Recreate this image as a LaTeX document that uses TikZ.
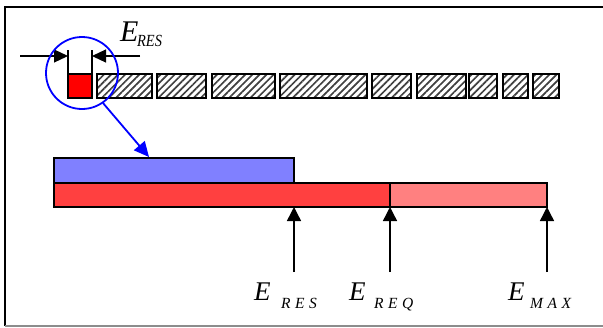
\documentclass[tikz,border=0pt]{standalone}
\usepackage{fontspec}
\setmainfont{Liberation Serif}
\usetikzlibrary{arrows.meta,patterns.meta}

\tikzset{
  frameline/.style={line width=1.6pt, black},
  block/.style={draw=black, line width=1.4pt, pattern={Lines[angle=45,distance=5pt,line width=1.7pt]}, pattern color=black!75},
  resblock/.style={draw=black, line width=1.4pt, fill=red},
  bar/.style={draw=black, line width=1.4pt},
  dimline/.style={line width=1.2pt, black},
  dimarrow/.style={line width=1.2pt, black, -{Triangle[length=14pt,width=13pt]}},
  uparrow/.style={line width=1.4pt, black, -{Triangle[length=14pt,width=14pt]}},
  zoomline/.style={line width=1.8pt, blue},
  bigE/.style={inner sep=0pt, font=\itshape\fontsize{27}{27}\selectfont},
  subE/.style={inner sep=0pt, font=\itshape\fontsize{15.5}{16}\selectfont},
}

\begin{document}
\begin{tikzpicture}[x=1pt,y=-1pt]
  \useasboundingbox (0,0) rectangle (603,327);

  % outer frame (right side runs off the page)
  \draw[frameline] (610,7) -- (5,7) -- (5,326);
  \draw[line width=1.4pt, black!45] (5,326) -- (610,326);

  % reserved slot and the row of occupied blocks
  \path[resblock] (68,74) rectangle (92,98);
  \coordinate (resL) at (68,74);
  \coordinate (resR) at (92,74);
  \foreach \a/\b in {97/152,157/206,212/275,280/367,372/411,417/466,469/497,503/528,533/559}{
    \path[block] (\a,74) rectangle (\b,98);
  }

  % width marks of the reserved slot
  \coordinate (resLtop) at (68,50);
  \coordinate (resRtop) at (92,50);
  \draw[dimline] (resL) -- (resLtop);
  \draw[dimline] (resR) -- (resRtop);
  \coordinate (dimLfrom) at (20,56);
  \coordinate (dimLto) at (68,56);
  \coordinate (dimRfrom) at (140,56);
  \coordinate (dimRto) at (92,56);
  \draw[dimarrow] (dimLfrom) -- (dimLto);
  \draw[dimarrow] (dimRfrom) -- (dimRto);

  \node[bigE, anchor=base west, font=\itshape\fontsize{30}{30}\selectfont] (Etop) at (120,41) {E};
  \node[inner sep=0pt, anchor=base west, xscale=0.85, font=\itshape\fontsize{17}{17}\selectfont] (RESTop) at (137,46) {RES};

  % magnifier circle and pointer
  \node[draw=blue, line width=1.8pt, circle, minimum size=72pt, inner sep=0pt] (lens) at (82,73) {};
  \coordinate (tipBlue) at (149,157);
  \draw[zoomline, -{Triangle[length=15pt,width=14pt]}] (lens.-55) -- (tipBlue);

  % energy bars
  \path[bar, fill={rgb,255:red,255;green,64;blue,64}] (54,183) rectangle (390,207);
  \path[bar, fill={rgb,255:red,255;green,128;blue,128}] (390,183) rectangle (547,207);
  \path[bar, fill={rgb,255:red,128;green,128;blue,255}] (54,158) rectangle (294,183);

  % level markers
  \foreach \x/\n in {294/res,390/req,547/max}{
    \coordinate (\n bot) at (\x,272);
    \coordinate (\n top) at (\x,207);
    \draw[uparrow] (\n bot) -- (\n top);
  }

  % level labels
  \node[bigE, anchor=base west] (E1) at (254,300) {E};
  \node[subE, anchor=base west] (s1) at (281,308) {R\hspace{4.5pt}E\hspace{4.5pt}S};
  \node[bigE, anchor=base west] (E2) at (349,300) {E};
  \node[subE, anchor=base west] (s2) at (374,308) {R\hspace{4.5pt}E\hspace{4.5pt}Q};
  \node[bigE, anchor=base west] (E3) at (508,300) {E};
  \node[subE, anchor=base west] (s3) at (530,308) {M\hspace{4.5pt}A\hspace{4.5pt}X};
\end{tikzpicture}
\end{document}
